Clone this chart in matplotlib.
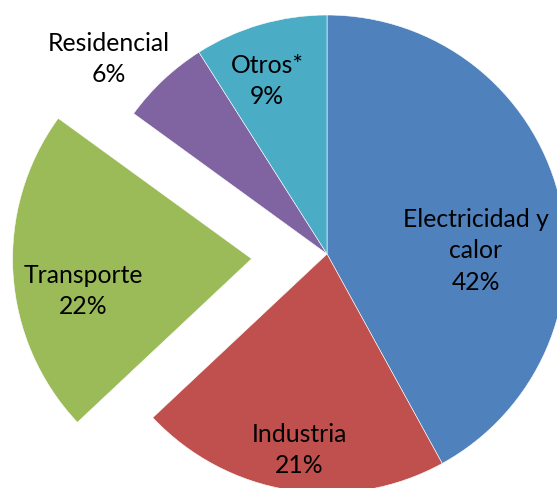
import matplotlib
matplotlib.use("Agg")
import matplotlib.pyplot as plt

# datos del grafico (porcentaje de emisiones por sector)
sectores = ["Electricidad y\ncalor", "Industria", "Transporte", "Residencial", "Otros*"]
valores = [42, 21, 22, 6, 9]
colores = ["#4F81BD", "#C0504D", "#9BBB59", "#8064A2", "#4BACC6"]
separacion = [0, 0, 0.316, 0, 0]

# posicion de cada etiqueta (en radios, relativo al centro de la torta)
pos_etiquetas = [(0.623, 0.017), (-0.117, -0.816), (-1.021, -0.151),
                 (-0.912, 0.820), (-0.251, 0.728)]

plt.rcParams['font.family'] = ['Lato', 'DejaVu Sans']

fig = plt.figure(figsize=(5.57, 4.89), dpi=100)
ax = fig.add_axes([0, 0, 1, 1])

ax.pie(valores, colors=colores, explode=separacion, startangle=90,
       counterclock=False, radius=1,
       wedgeprops=dict(edgecolor="white", linewidth=0.4))

for nombre, valor, (x, y) in zip(sectores, valores, pos_etiquetas):
    ax.text(x, y, f"{nombre}\n{valor}%", ha="center", va="center",
            fontsize=17.8, linespacing=1.45, color="black")

ax.set_xlim(-1.368, 0.962)
ax.set_ylim(-0.979, 1.067)
ax.set_aspect("auto")
ax.axis("off")

fig.savefig("out.png", dpi=100)
